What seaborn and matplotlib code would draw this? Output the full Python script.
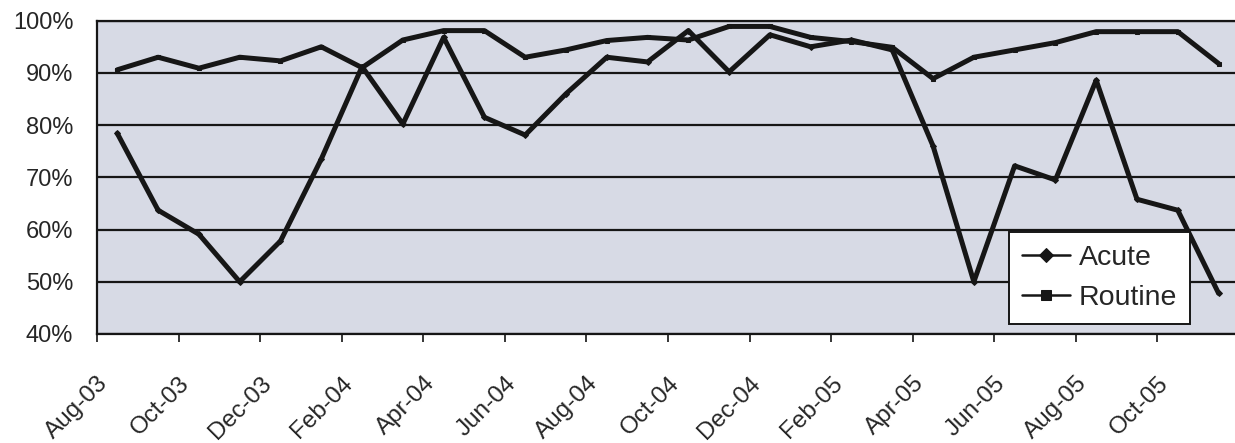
import numpy as np
import pandas as pd
import matplotlib
matplotlib.use("Agg")
import matplotlib.pyplot as plt
import matplotlib.transforms as mtransforms
import seaborn as sns

# Monthly categories, August 2003 through November 2005
months = [
    "Aug-03", "Sep-03", "Oct-03", "Nov-03", "Dec-03", "Jan-04", "Feb-04",
    "Mar-04", "Apr-04", "May-04", "Jun-04", "Jul-04", "Aug-04", "Sep-04",
    "Oct-04", "Nov-04", "Dec-04", "Jan-05", "Feb-05", "Mar-05", "Apr-05",
    "May-05", "Jun-05", "Jul-05", "Aug-05", "Sep-05", "Oct-05", "Nov-05",
]

# Percentages per month
acute = [78.4, 63.7, 59.1, 50.0, 57.8, 73.5, 91.2, 80.2, 96.8, 81.5,
         78.1, 86.0, 93.0, 92.1, 98.1, 90.2, 97.3, 95.0, 96.3, 94.4,
         76.0, 50.0, 72.2, 69.5, 88.6, 65.8, 63.7, 47.8]
routine = [90.6, 93.0, 90.9, 93.0, 92.3, 95.0, 91.0, 96.3, 98.1, 98.1,
           93.0, 94.4, 96.2, 96.8, 96.3, 98.9, 98.9, 96.8, 96.0, 94.9,
           88.9, 93.0, 94.4, 95.8, 97.9, 97.9, 97.9, 91.8]

y_ticks = [40, 50, 60, 70, 80, 90, 100]
y_labels = ["40%", "50%", "60%", "70%", "80%", "90%", "100%"]

# Long-form table; each month is plotted in the middle of its category slot
pos = np.arange(len(months)) + 0.5
df = pd.DataFrame({
    "pos": np.concatenate([pos, pos]),
    "value": acute + routine,
    "Series": ["Acute"] * len(months) + ["Routine"] * len(months),
})

ink = "#161616"

sns.set_style("white")
plt.rcParams["font.family"] = ["Liberation Sans", "DejaVu Sans"]

fig = plt.figure(figsize=(12.35, 4.43), dpi=100)
ax = fig.add_axes([0.0785, 0.2461, 0.9247, 0.7072])
ax.set_facecolor("#d7dae5")

sns.lineplot(
    data=df, x="pos", y="value", hue="Series", style="Series",
    palette={"Acute": ink, "Routine": ink},
    markers={"Acute": "D", "Routine": "s"}, dashes=False,
    markersize=3, markeredgecolor=ink, linewidth=3.6, ax=ax, zorder=3,
)

ax.set_xlim(0, len(months))
ax.set_ylim(40, 100)
ax.set_yticks(y_ticks)
ax.set_yticklabels(y_labels)
ax.set_xticks(np.arange(0, len(months), 2))
ax.set_xlabel("")
ax.set_ylabel("")

ax.yaxis.grid(True, color=ink, linewidth=1.6)
ax.set_axisbelow(True)

for side in ["left", "bottom", "top"]:
    ax.spines[side].set_visible(True)
    ax.spines[side].set_color(ink)
    ax.spines[side].set_linewidth(1.6)
ax.spines["right"].set_visible(False)

ax.tick_params(axis="y", length=0, pad=17, labelsize=17, colors="#262626")
ax.tick_params(axis="x", length=6, width=1.3, direction="out", pad=12,
               labelsize=17.5, colors="#262626", bottom=True)

ax.set_xticklabels(months[::2], rotation=45, ha="right", va="center",
                   rotation_mode="anchor")

# Nudge the slanted month labels down and to the right of their ticks
shift = mtransforms.ScaledTranslation(8 / 100, -21 / 100, fig.dpi_scale_trans)
for lab in ax.get_xticklabels():
    lab.set_transform(lab.get_transform() + shift)

leg = ax.legend(
    loc="upper left", bbox_to_anchor=(1009 / 1235, 1 - 232 / 443),
    bbox_transform=fig.transFigure, borderaxespad=0, frameon=True,
    fancybox=False, framealpha=1, facecolor="white", edgecolor=ink,
    fontsize=20.5, handlelength=1.7, handletextpad=0.3, labelspacing=0.5,
    borderpad=0.45, title=None,
)
leg.get_frame().set_linewidth(1.4)
for h in leg.legend_handles:
    h.set_linewidth(1.8)
    h.set_markersize(7)
    h.set_markeredgecolor(ink)

fig.savefig("out.png", dpi=100)
